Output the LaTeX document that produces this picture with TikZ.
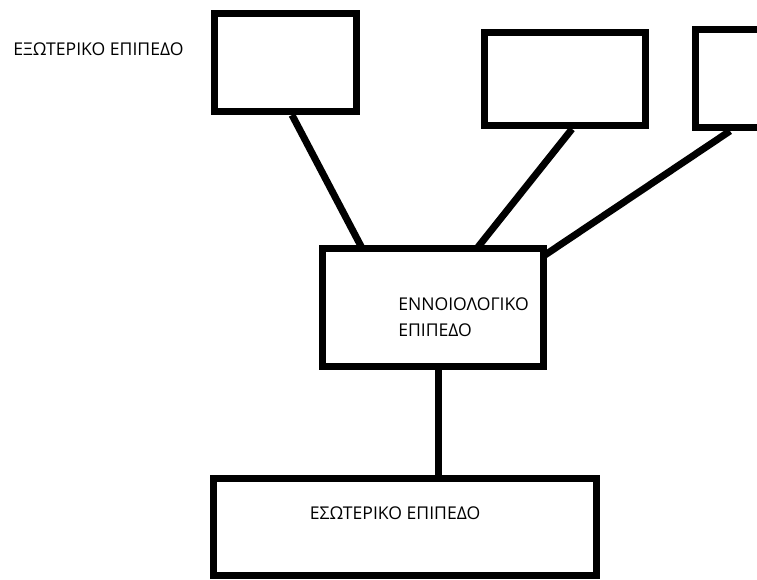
\documentclass[tikz,border=0pt]{standalone}
\usepackage{fontspec}
\setmainfont{Open Sans}
\usepackage{tikz}
\usetikzlibrary{positioning, calc}

\newcommand{\pxu}{0.75pt}

\begin{document}
\begin{tikzpicture}[
    x=0.75pt, y=-0.75pt,
    block/.style={rectangle, draw=black, fill=white, line width=5.25pt, inner sep=0pt},
    link/.style={draw=black, line width=5.25pt},
    level/.style={inner sep=0pt, font=\fontsize{13.2}{19.5}\selectfont, align=left}
]
    \clip (0,0) rectangle (757,580);

    % External level (views)
    \node (extA) [block, minimum width=142*\pxu, minimum height=98*\pxu] at (285.5,62.5) {};
    \node (extB) [block, minimum width=161*\pxu, minimum height=93*\pxu] at (565,79) {};
    \node (extC) [block, minimum width=140*\pxu, minimum height=98*\pxu] at (765.5,78.5) {};
    \node (extlabel) [level, anchor=west] at (13,49) {ΕΞΩΤΕΡΙΚΟ ΕΠΙΠΕΔΟ};

    % Conceptual level
    \node (concept) [block, minimum width=221*\pxu, minimum height=118*\pxu] at (433,307.5) {};
    \node (conceptlabel) [level, anchor=west] at (398,317) {ΕΝΝΟΙΟΛΟΓΙΚΟ\\ΕΠΙΠΕΔΟ};

    % Internal level
    \node (internal) [block, minimum width=383*\pxu, minimum height=97*\pxu] at (405,527) {};
    \node (internallabel) [level] at (395,513) {ΕΣΩΤΕΡΙΚΟ ΕΠΙΠΕΔΟ};

    % Connectors
    \draw [link] ([xshift=6.5*\pxu]extA.south) -- ([xshift=-70*\pxu, yshift=-5*\pxu]concept.north);
    \draw [link] ([xshift=7*\pxu]extB.south) -- ([xshift=45*\pxu, yshift=-2*\pxu]concept.north);
    \draw [link] ([xshift=38*\pxu]extC.south west) -- ([xshift=-2*\pxu, yshift=-10*\pxu]concept.north east);
    \draw [link] ([xshift=5*\pxu]concept.south) -- ([xshift=5*\pxu]concept.south |- internal.north);

\end{tikzpicture}
\end{document}
